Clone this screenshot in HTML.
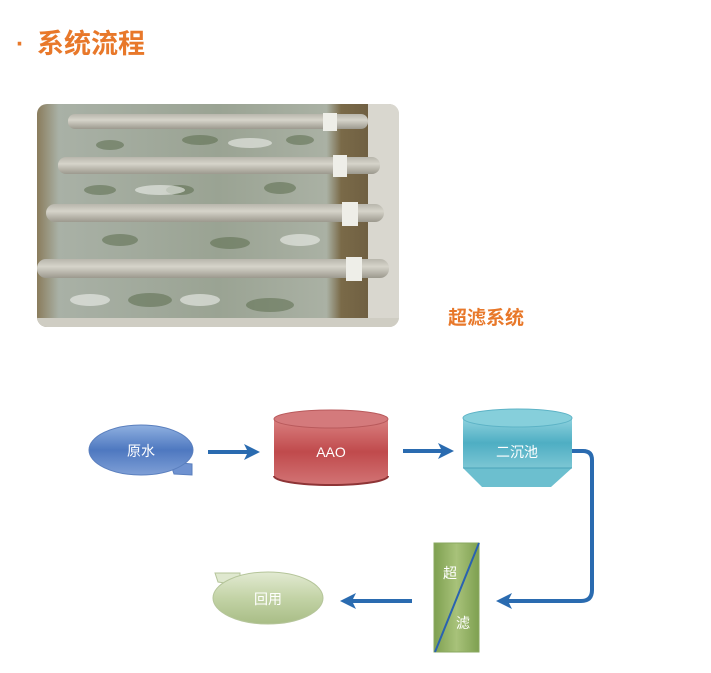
<!DOCTYPE html>
<html><head><meta charset="utf-8"><style>
body{margin:0;background:#fff;width:711px;height:668px;overflow:hidden;font-family:"Liberation Sans","Noto Sans CJK SC",sans-serif}
</style></head><body>
<svg width="711" height="668" viewBox="0 0 711 668" xmlns="http://www.w3.org/2000/svg">
<defs>
<linearGradient id="blue" x1="0" y1="0" x2="0" y2="1"><stop offset="0" stop-color="#8fb0e0"/><stop offset="0.5" stop-color="#4e78c0"/><stop offset="1" stop-color="#7f9fd6"/></linearGradient>
<linearGradient id="red" x1="0" y1="0" x2="0" y2="1"><stop offset="0" stop-color="#d98080"/><stop offset="0.5" stop-color="#c04a4c"/><stop offset="1" stop-color="#d27475"/></linearGradient>
<linearGradient id="teal" x1="0" y1="0" x2="0" y2="1"><stop offset="0" stop-color="#8fd2de"/><stop offset="0.5" stop-color="#4eaec3"/><stop offset="1" stop-color="#7cc6d4"/></linearGradient>
<linearGradient id="green" x1="0" y1="0" x2="1" y2="0"><stop offset="0" stop-color="#7ea050"/><stop offset="0.5" stop-color="#a8c27a"/><stop offset="1" stop-color="#7ea050"/></linearGradient>
<linearGradient id="lg" x1="0" y1="0" x2="0" y2="1"><stop offset="0" stop-color="#e2ead2"/><stop offset="0.5" stop-color="#c3d3a6"/><stop offset="1" stop-color="#a9bd86"/></linearGradient>
<linearGradient id="pipe" x1="0" y1="0" x2="0" y2="1"><stop offset="0" stop-color="#b8b6ac"/><stop offset="0.4" stop-color="#d6d4ca"/><stop offset="1" stop-color="#9c998e"/></linearGradient>
<linearGradient id="water" x1="0" y1="0" x2="1" y2="0"><stop offset="0" stop-color="#8a7c5c"/><stop offset="0.06" stop-color="#a9b1a6"/><stop offset="0.5" stop-color="#9aa393"/><stop offset="0.8" stop-color="#aab1a4"/><stop offset="0.84" stop-color="#7a6a48"/><stop offset="0.92" stop-color="#6f5f42"/><stop offset="1" stop-color="#d8d6cc"/></linearGradient>
<clipPath id="ph"><rect x="37" y="104" width="362" height="223" rx="10"/></clipPath>
</defs>
<text x="16" y="52" font-size="25" font-weight="bold" fill="#e8782a">·</text>
<text x="37" y="53" font-size="27" font-weight="bold" fill="#e8782a">系统流程</text>
<g clip-path="url(#ph)">
<rect x="37" y="104" width="362" height="223" fill="url(#water)"/>
<g fill="#5c6d4e" opacity="0.55">
<ellipse cx="110" cy="145" rx="14" ry="5"/><ellipse cx="200" cy="140" rx="18" ry="5"/><ellipse cx="280" cy="188" rx="16" ry="6"/><ellipse cx="120" cy="240" rx="18" ry="6"/><ellipse cx="230" cy="243" rx="20" ry="6"/><ellipse cx="150" cy="300" rx="22" ry="7"/><ellipse cx="270" cy="305" rx="24" ry="7"/><ellipse cx="100" cy="190" rx="16" ry="5"/><ellipse cx="300" cy="140" rx="14" ry="5"/><ellipse cx="180" cy="190" rx="14" ry="5"/></g>
<g fill="#eef0ec" opacity="0.6">
<ellipse cx="160" cy="190" rx="25" ry="5"/><ellipse cx="90" cy="300" rx="20" ry="6"/><ellipse cx="300" cy="240" rx="20" ry="6"/><ellipse cx="250" cy="143" rx="22" ry="5"/><ellipse cx="200" cy="300" rx="20" ry="6"/></g>
<rect x="368" y="104" width="31" height="223" fill="#d9d7cf"/>
<rect x="68" y="114" width="300" height="15" rx="7" fill="url(#pipe)"/>
<rect x="58" y="157" width="322" height="17" rx="8" fill="url(#pipe)"/>
<rect x="46" y="204" width="338" height="18" rx="9" fill="url(#pipe)"/>
<rect x="37" y="259" width="352" height="19" rx="9" fill="url(#pipe)"/>
<g fill="#eeeee8"><rect x="323" y="113" width="14" height="18"/><rect x="333" y="155" width="14" height="22"/><rect x="342" y="202" width="16" height="24"/><rect x="346" y="257" width="16" height="24"/></g>
<rect x="37" y="318" width="362" height="9" fill="#cfcdc3"/>
</g>
<text x="448" y="324" font-size="19" font-weight="bold" fill="#e8782a">超滤系统</text>
<!-- 原水 -->
<polygon points="170,462 192,464 192,475 174,474" fill="#6f92d0" stroke="#5a7fbe"/>
<ellipse cx="141" cy="450" rx="52" ry="25" fill="url(#blue)" stroke="#5a7fbe"/>
<text x="141" y="456" font-size="14" fill="#fff" text-anchor="middle">原水</text>
<g stroke="#2a6bb0" stroke-width="4" fill="none"><line x1="208" y1="452" x2="248" y2="452"/><line x1="403" y1="451" x2="442" y2="451"/>
<path d="M570,451 H583 Q592,451 592,460 V590 Q592,601 581,601 H506"/><line x1="412" y1="601" x2="350" y2="601"/></g>
<g fill="#2a6bb0"><polygon points="260,452 244,444 248,452 244,460"/><polygon points="454,451 438,443 442,451 438,459"/><polygon points="496,601 512,593 508,601 512,609"/><polygon points="340,601 356,593 352,601 356,609"/></g>
<!-- AAO -->
<path d="M274,419 V476 A57,9 0 0 0 388,476 V419 Z" fill="url(#red)"/>
<ellipse cx="331" cy="419" rx="57" ry="9" fill="#d47a7c" stroke="#b95a5c"/>
<path d="M274,476 A57,9 0 0 0 388,476" fill="none" stroke="#8e3436" stroke-width="2"/>
<text x="331" y="457" font-size="14" fill="#fff" text-anchor="middle">AAO</text>
<!-- 二沉池 -->
<path d="M463,418 V468 H572 V418 Z" fill="url(#teal)"/>
<polygon points="463,468 572,468 551,487 482,487" fill="#6cbfcf"/>
<line x1="463" y1="468" x2="572" y2="468" stroke="#4aa3b8"/>
<ellipse cx="517.5" cy="418" rx="54.5" ry="9" fill="#86cfdb" stroke="#5db3c6"/>
<text x="517" y="457" font-size="14" fill="#fff" text-anchor="middle">二沉池</text>
<!-- 超滤 -->
<rect x="434" y="543" width="45" height="109" fill="url(#green)" stroke="#8aa860"/>
<line x1="479" y1="543" x2="435" y2="652" stroke="#2a62b0" stroke-width="2"/>
<text x="443" y="578" font-size="14" fill="#fff">超</text>
<text x="456" y="628" font-size="14" fill="#fff">滤</text>
<!-- 回用 -->
<polygon points="215,573 240,573 240,585 218,582" fill="#dfe8cf" stroke="#b5c59a"/>
<ellipse cx="268" cy="598" rx="55" ry="26" fill="url(#lg)" stroke="#b5c59a"/>
<text x="268" y="604" font-size="14" fill="#fff" text-anchor="middle">回用</text>
</svg>
</body></html>
